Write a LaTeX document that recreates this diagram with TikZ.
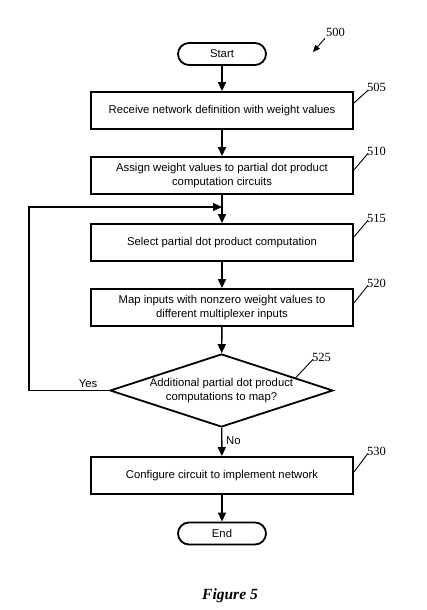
\documentclass[tikz,border=0pt]{standalone}
\usepackage{fontspec}
\setmainfont{Liberation Sans}
\newfontfamily\serifnum{Liberation Serif}
\usetikzlibrary{shapes.geometric,arrows.meta,calc}
\begin{document}
\begin{tikzpicture}[x=1pt,y=-1pt,
  every node/.style={font=\fontsize{11.3}{13.3}\selectfont},
  procbox/.style={draw,line width=1.8pt,minimum width=262pt,minimum height=37pt,inner sep=0pt,align=center},
  termbox/.style={draw,line width=1.8pt,rounded corners=11pt,minimum width=88pt,minimum height=22pt,inner sep=0pt},
  decbox/.style={draw,diamond,line width=1.8pt,aspect=3.05,minimum width=223pt,minimum height=73pt,inner sep=0pt,align=center},
  arr/.style={line width=1.4pt,-{Triangle[length=9pt,width=8pt]}},
  conn/.style={line width=1.4pt},
  refnum/.style={font=\serifnum\fontsize{12.5}{14}\selectfont,inner sep=0pt,anchor=base west},
  leader/.style={line width=0.9pt},
  lbl/.style={inner sep=0pt}]
\useasboundingbox (0,0) rectangle (426,610);

\node[termbox] (start) at (222,54) {Start};
\node[procbox] (b505) at (222,110.5) {Receive network definition with weight values};
\node[procbox] (b510) at (222,175.5) {Assign weight values to partial dot product\\computation circuits};
\node[procbox] (b515) at (222,242.5) {Select partial dot product computation};
\node[procbox] (b520) at (222,307.5) {Map inputs with nonzero weight values to\\different multiplexer inputs};
\node[decbox] (d525) at (221.5,390.5) {Additional partial dot product\\computations to map?};
\node[procbox] (b530) at (222,475.5) {Configure circuit to implement network};
\node[termbox] (end) at (222,533.5) {End};

\coordinate (j) at (222,207);
\coordinate (a500) at (313,52);

\draw[arr] (start) -- (b505);
\draw[arr] (b505) -- (b510);
\draw[conn] (b510) -- (j);
\draw[arr] (j) -- (b515);
\draw[arr] (b515) -- (b520);
\draw[arr] (b520) -- (d525);
\draw[arr] (d525) -- (b530);
\draw[arr] (b530) -- (end);
\draw[arr] (d525.west) -- ++(-80,0) |- (j);

\node[lbl] (yes) at (88,384) {Yes};
\node[lbl,anchor=west] (no) at (226,441) {No};

\node[refnum] (l500) at (326,37) {500};
\node[refnum] (l505) at (367,92) {505};
\node[refnum] (l510) at (367,155) {510};
\node[refnum] (l515) at (367,222) {515};
\node[refnum] (l520) at (367,287) {520};
\node[refnum] (l525) at (312,361) {525};
\node[refnum] (l530) at (367,455) {530};

\draw[leader,-{Triangle[length=7pt,width=6pt]}] ([shift={(-1pt,-1pt)}]l500.south west) -- (a500);
\draw[leader] ([yshift=7.5pt]b505.east) -- ([shift={(1pt,2pt)}]l505.south west);
\draw[leader] ([yshift=5.5pt]b510.east) -- ([shift={(1pt,2pt)}]l510.south west);
\draw[leader] ([yshift=5.5pt]b515.east) -- ([shift={(1pt,2pt)}]l515.south west);
\draw[leader] ([yshift=4.5pt]b520.east) -- ([shift={(1pt,2pt)}]l520.south west);
\draw[leader] ($(d525.north)!0.66!(d525.east)$) -- ([shift={(1pt,2pt)}]l525.south west);
\draw[leader] ([yshift=3.5pt]b530.east) -- ([shift={(1pt,2pt)}]l530.south west);

\node[font=\serifnum\bfseries\itshape\fontsize{15.5}{18}\selectfont] (fig) at (230,596) {Figure 5};
\end{tikzpicture}
\end{document}
